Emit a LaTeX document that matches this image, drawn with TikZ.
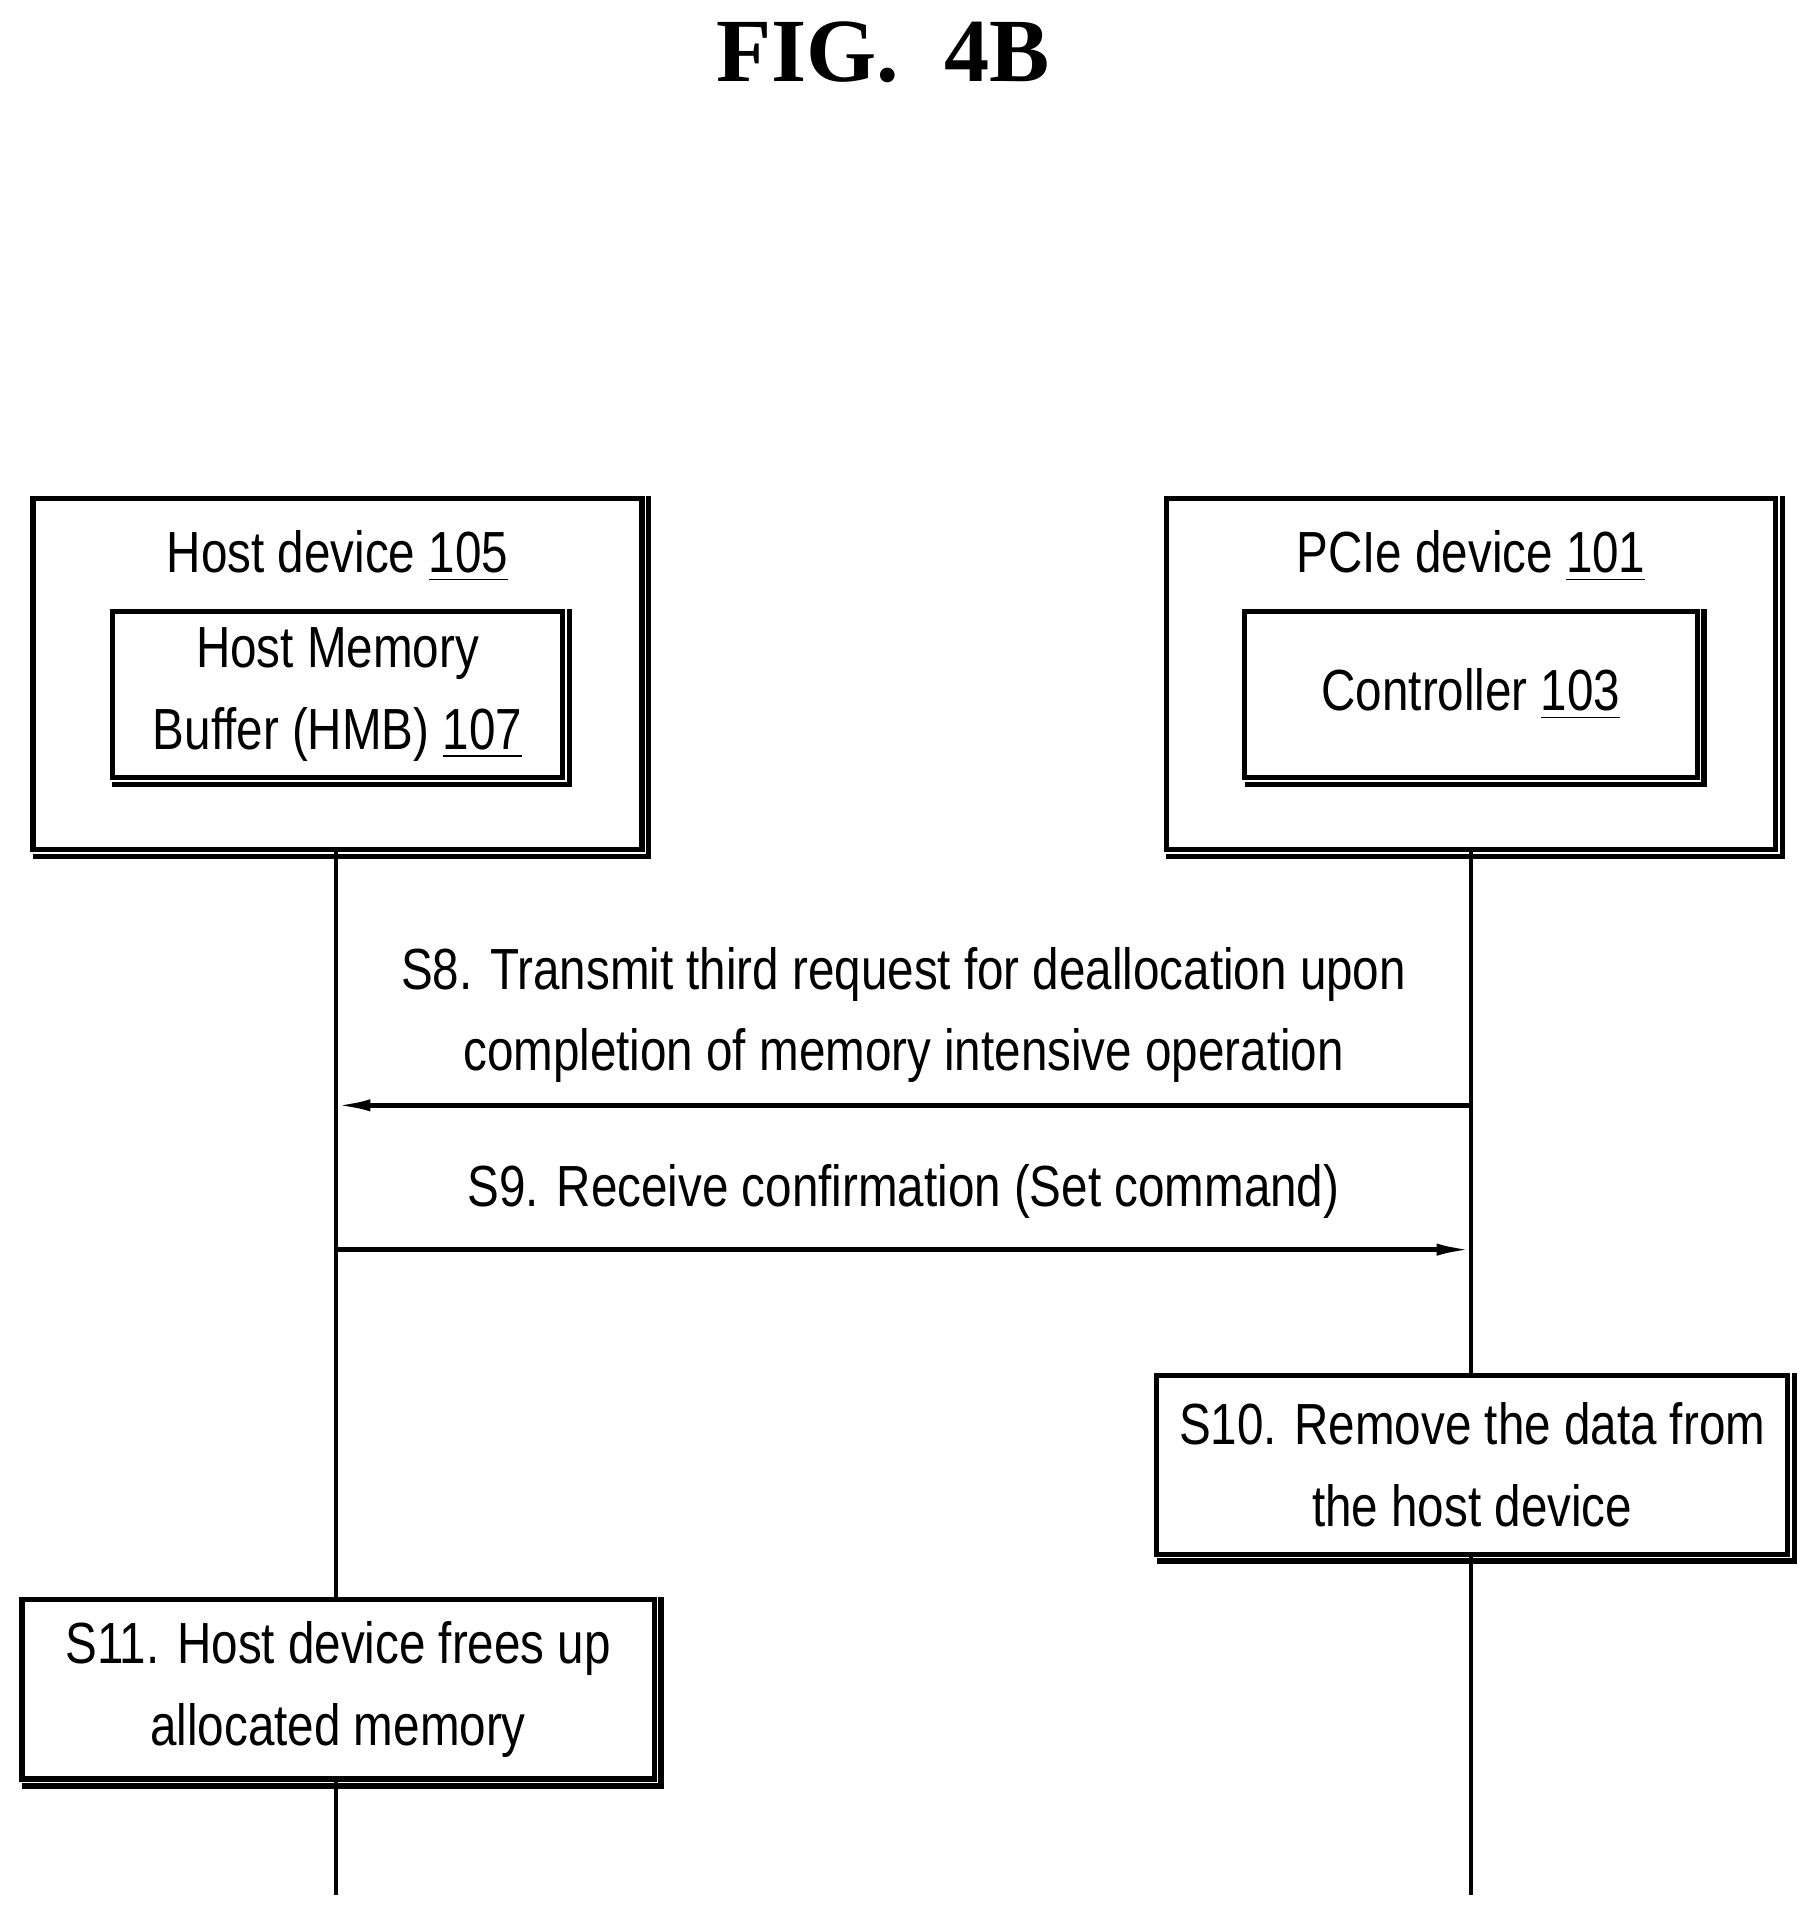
\documentclass[tikz,border=0pt]{standalone}
\usepackage{fontspec}
\setmainfont{Liberation Sans}[FakeStretch=0.82]
\newfontfamily\titlefont{Liberation Serif}
\usetikzlibrary{arrows.meta}
\newcommand\boxshadow[1]{\draw[line width=1.2pt] ([shift={(0.035,0)}]#1.north east) -- ([shift={(0.035,-0.035)}]#1.south east) -- ([shift={(0.02,-0.035)}]#1.south west);}
\begin{document}
\begin{tikzpicture}[
  txt/.style={font=\fontsize{13.5}{19}\selectfont, align=center},
  box/.style={draw, line width=1.2pt, inner sep=0pt},
  life/.style={line width=1pt},
  msg/.style={line width=1pt, -{Latex[length=0.28cm,width=0.1cm]}}
]
\useasboundingbox (0,0) rectangle (14.8,-15.67);
\node[font=\titlefont\fontsize{21}{24}\selectfont\bfseries] (title) at (7.22,-0.43) {FIG.\ \ 4B};
% Host
\node[box, minimum width=4.98cm, minimum height=2.87cm] (host) at (2.76,-5.515) {};
\node[txt] (hostl) at (2.76,-4.55) {Host device \underline{105}};
\node[box, minimum width=3.68cm, minimum height=1.36cm, txt] (hmb) at (2.76,-5.68) {Host Memory\\Buffer (HMB) \underline{107}};
% PCIe
\node[box, minimum width=4.98cm, minimum height=2.87cm] (pcie) at (12.03,-5.515) {};
\node[txt] (pciel) at (12.03,-4.55) {PCIe device \underline{101}};
\node[box, minimum width=3.70cm, minimum height=1.36cm, txt] (ctrl) at (12.03,-5.68) {Controller \underline{103}};
\boxshadow{host}\boxshadow{hmb}\boxshadow{pcie}\boxshadow{ctrl}
% step boxes
\node[box, minimum width=5.16cm, minimum height=1.46cm, txt] (s10) at (12.04,-11.98) {S10. Remove the data from\\the host device};
\node[box, minimum width=5.17cm, minimum height=1.47cm, txt] (s11) at (2.765,-13.815) {S11. Host device frees up\\allocated memory};
\boxshadow{s10}\boxshadow{s11}
% lifelines
\coordinate (hend) at (2.75,-15.5);
\coordinate (pend) at (12.03,-15.5);
\draw[life] (host.south -| hend) -- (s11.north -| hend);
\draw[life] (s11.south -| hend) -- (hend);
\draw[life] (pcie.south -| pend) -- (s10.north -| pend);
\draw[life] (s10.south -| pend) -- (pend);
% messages
\coordinate (a8s) at (12.03,-9.04);
\coordinate (a8e) at (2.75,-9.04);
\draw[msg] (a8s) -- (a8e) node[midway, above=0.05cm, txt] (s8) {S8. Transmit third request for deallocation upon\\completion of memory intensive operation};
\coordinate (a9s) at (2.75,-10.22);
\coordinate (a9e) at (12.03,-10.22);
\draw[msg] (a9s) -- (a9e) node[midway, above=0.12cm, txt] (s9) {S9. Receive confirmation (Set command)};
\end{tikzpicture}
\end{document}
